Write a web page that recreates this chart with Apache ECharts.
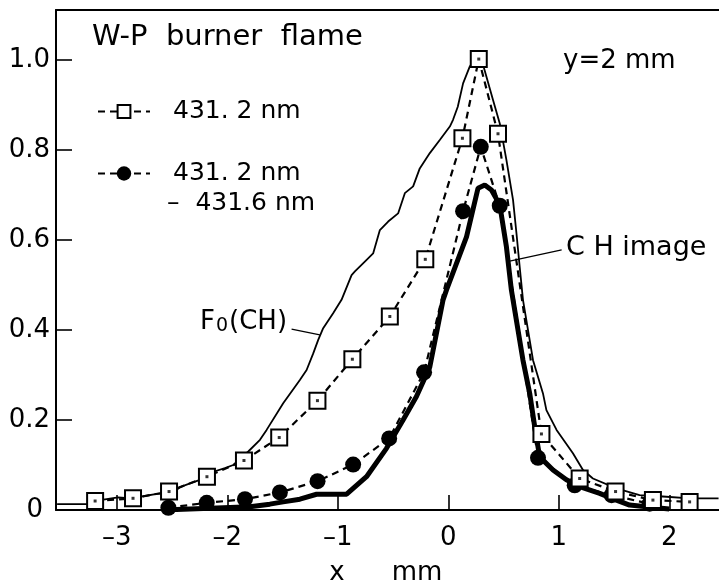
<!DOCTYPE html>
<html>
<head>
<meta charset="utf-8">
<script src="https://cdn.jsdelivr.net/npm/echarts@6/dist/echarts.min.js"></script>
<style>
html,body{margin:0;padding:0;background:#fff;}
#chart{width:719px;height:586px;}
</style>
</head>
<body>
<div id="chart"></div>
<script>
// ---- data ----
const xTicks = [-3, -2, -1, 0, 1, 2];
const yTicks = [0, 0.2, 0.4, 0.6, 0.8, 1.0];

// open squares, dashed: 431.2 nm
const sqX = [-3.196, -2.853, -2.527, -2.184, -1.849, -1.530, -1.184, -0.868, -0.529, -0.208, 0.128, 0.276, 0.450, 0.843, 1.189, 1.514, 1.852, 2.184];
const sqY = [0.020, 0.026, 0.041, 0.074, 0.110, 0.161, 0.243, 0.335, 0.430, 0.557, 0.826, 1.002, 0.836, 0.169, 0.070, 0.041, 0.022, 0.018];

// filled circles, dashed: 431.2 nm - 431.6 nm
const ciX = [-2.533, -2.186, -1.840, -1.524, -1.183, -0.861, -0.535, -0.219, 0.134, 0.294, 0.466, 0.812, 1.144, 1.478, 1.822];
const ciY = [0.005, 0.016, 0.024, 0.039, 0.064, 0.101, 0.159, 0.306, 0.664, 0.807, 0.676, 0.116, 0.055, 0.033, 0.014];

// thick solid: CH image
const chX = [-2.58, -1.795, -1.615, -1.494, -1.343, -1.192, -0.920, -0.740, -0.559, -0.409, -0.288, -0.167, -0.047, -0.016, 0.165, 0.269, 0.330, 0.391, 0.466, 0.526, 0.571, 0.676, 0.737, 0.782, 0.827, 0.948, 1.069, 1.189, 1.370, 1.521, 1.641, 1.792, 2.0];
const chY = [0.000, 0.007, 0.013, 0.018, 0.024, 0.035, 0.035, 0.074, 0.137, 0.200, 0.252, 0.318, 0.467, 0.489, 0.607, 0.715, 0.722, 0.711, 0.678, 0.585, 0.489, 0.333, 0.259, 0.185, 0.118, 0.089, 0.067, 0.052, 0.037, 0.022, 0.011, 0.007, 0.002];

// thin solid: F0(CH)
const f0X = [-3.54, -3.26, -3.151, -2.988, -2.864, -2.774, -2.638, -2.491, -2.428, -2.337, -2.247, -2.127, -2.021, -1.946, -1.810, -1.704, -1.644, -1.494, -1.343, -1.282, -1.222, -1.177, -1.132, -1.042, -0.966, -0.875, -0.845, -0.755, -0.680, -0.619, -0.544, -0.454, -0.393, -0.318, -0.258, -0.167, -0.077, 0.014, 0.043, 0.086, 0.134, 0.194, 0.240, 0.300, 0.405, 0.466, 0.526, 0.586, 0.617, 0.646, 0.676, 0.767, 0.857, 0.888, 0.980, 1.128, 1.219, 1.309, 1.521, 1.731, 1.942, 2.184, 2.446];
const f0Y = [0.013, 0.013, 0.022, 0.028, 0.026, 0.030, 0.036, 0.038, 0.051, 0.059, 0.067, 0.085, 0.093, 0.100, 0.130, 0.156, 0.178, 0.237, 0.289, 0.311, 0.348, 0.378, 0.404, 0.437, 0.467, 0.522, 0.530, 0.552, 0.570, 0.622, 0.641, 0.659, 0.704, 0.719, 0.759, 0.793, 0.822, 0.852, 0.867, 0.896, 0.948, 0.985, 1.004, 1.002, 0.911, 0.859, 0.778, 0.689, 0.615, 0.541, 0.467, 0.333, 0.259, 0.222, 0.178, 0.126, 0.089, 0.070, 0.048, 0.033, 0.030, 0.026, 0.026];

// label pointer lines (data coordinates)
const f0Pointer = [[-1.418, 0.402], [-1.162, 0.389]];
const chPointer = [[0.556, 0.553], [1.026, 0.578]];

const zip = (xs, ys) => xs.map((x, i) => [x, ys[i]]);
const FONT = 'DejaVu Sans';
const BLACK = '#000';

const chart = echarts.init(document.getElementById('chart'), null, {renderer: 'canvas'});
const option = {
  animation: false,
  backgroundColor: '#fff',
  grid: {left: 56, right: 0, top: 10, bottom: 76, containLabel: false},
  xAxis: [{
    type: 'value', min: -3.55, max: 2.45,
    axisLine: {show: true, onZero: false, lineStyle: {color: BLACK, width: 2}},
    axisTick: {show: true, inside: true, length: 15, customValues: xTicks, lineStyle: {color: BLACK, width: 1.6}},
    axisLabel: {show: true, customValues: xTicks, margin: 15, color: BLACK, fontFamily: FONT, fontSize: 26,
      formatter: v => (v < 0 ? '\u2013' + Math.abs(v) : String(v))},
    splitLine: {show: false}
  }, {
    type: 'value', position: 'top', min: -3.55, max: 2.45,
    axisLine: {show: true, onZero: false, lineStyle: {color: BLACK, width: 2}},
    axisTick: {show: false}, axisLabel: {show: false}, splitLine: {show: false}
  }],
  yAxis: {
    type: 'value', min: 0, max: 1.111,
    axisLine: {show: true, onZero: false, lineStyle: {color: BLACK, width: 2}},
    axisTick: {show: true, inside: true, length: 16, customValues: yTicks, lineStyle: {color: BLACK, width: 1.6}},
    axisLabel: {show: true, customValues: yTicks, margin: 6, color: BLACK, fontFamily: FONT, fontSize: 26,
      formatter: v => (v === 0 ? '{z|0}' : v.toFixed(1)),
      rich: {z: {fontFamily: FONT, fontSize: 26, color: BLACK, padding: [0, 7, 0, 0]}}},
    splitLine: {show: false}
  },
  legend: [{
    data: ['431.2 nm'], left: 97, top: 99, padding: 0, orient: 'vertical',
    itemWidth: 52, itemHeight: 16,
    formatter: () => '431. 2 nm',
    textStyle: {fontFamily: FONT, fontSize: 25, color: BLACK, padding: [0, 0, 0, 18]}
  }, {
    data: ['431.2 nm \u2013 431.6 nm'], left: 97, top: 161, padding: 0, orient: 'vertical',
    itemWidth: 52, itemHeight: 18,
    formatter: () => '431. 2 nm',
    textStyle: {fontFamily: FONT, fontSize: 25, color: BLACK, padding: [0, 0, 0, 18]}
  }],
  series: [{
    name: 'F0(CH)', type: 'line', data: zip(f0X, f0Y), showSymbol: false, symbol: 'none',
    lineStyle: {color: BLACK, width: 1.8}, z: 2,
    markLine: {
      silent: true, symbol: ['none', 'none'], label: {show: false},
      lineStyle: {color: BLACK, width: 1.2, type: 'solid'},
      data: [
        [{coord: f0Pointer[0]}, {coord: f0Pointer[1]}],
        [{coord: chPointer[0]}, {coord: chPointer[1]}]
      ]
    }
  }, {
    name: 'CH image', type: 'line', data: zip(chX, chY), showSymbol: false, symbol: 'none',
    lineStyle: {color: BLACK, width: 5}, z: 3
  }, {
    name: '431.2 nm \u2013 431.6 nm', type: 'line', data: zip(ciX, ciY),
    symbol: 'circle', symbolSize: 16,
    itemStyle: {color: BLACK},
    lineStyle: {color: BLACK, width: 2.2, type: [7, 5]}, z: 4
  }, {
    name: '431.2 nm', type: 'line', data: zip(sqX, sqY),
    symbol: 'emptyRect', symbolSize: 16,
    itemStyle: {color: BLACK, borderColor: BLACK, borderWidth: 2},
    lineStyle: {color: BLACK, width: 2.2, type: [7, 5]}, z: 5
  }, {
    name: 'sqdot', type: 'scatter', data: zip(sqX, sqY), symbol: 'rect', symbolSize: 3,
    itemStyle: {color: BLACK}, z: 6, silent: true
  }],
  graphic: [
    {type: 'text', x: 92, y: 37, style: {text: 'W-P  burner  flame', fontFamily: FONT, fontSize: 29, fill: BLACK, verticalAlign: 'middle'}},
    {type: 'text', x: 167, y: 203, style: {text: '\u2013  431.6 nm', fontFamily: FONT, fontSize: 25, fill: BLACK, verticalAlign: 'middle'}},
    {type: 'text', x: 563, y: 61, style: {text: 'y=2 mm', fontFamily: FONT, fontSize: 26, fill: BLACK, verticalAlign: 'middle'}},
    {type: 'text', x: 566, y: 248, style: {text: 'C H image', fontFamily: FONT, fontSize: 27, fill: BLACK, verticalAlign: 'middle'}},
    {type: 'text', x: 200, y: 322, style: {
      text: '{a|F}{b|0}{a|(CH)}', fontFamily: FONT, fontSize: 26, fill: BLACK, verticalAlign: 'middle',
      rich: {a: {fontFamily: FONT, fontSize: 26, fill: BLACK, color: BLACK}, b: {fontFamily: FONT, fontSize: 19, color: BLACK, padding: [8, 1, 0, 1]}}
    }},
    {type: 'text', x: 337, y: 573, style: {text: 'x', fontFamily: FONT, fontSize: 26, fill: BLACK, align: 'center', verticalAlign: 'middle'}},
    {type: 'text', x: 417, y: 573, style: {text: 'mm', fontFamily: FONT, fontSize: 26, fill: BLACK, align: 'center', verticalAlign: 'middle'}}
  ]
};
chart.setOption(option);
</script>
</body>
</html>
